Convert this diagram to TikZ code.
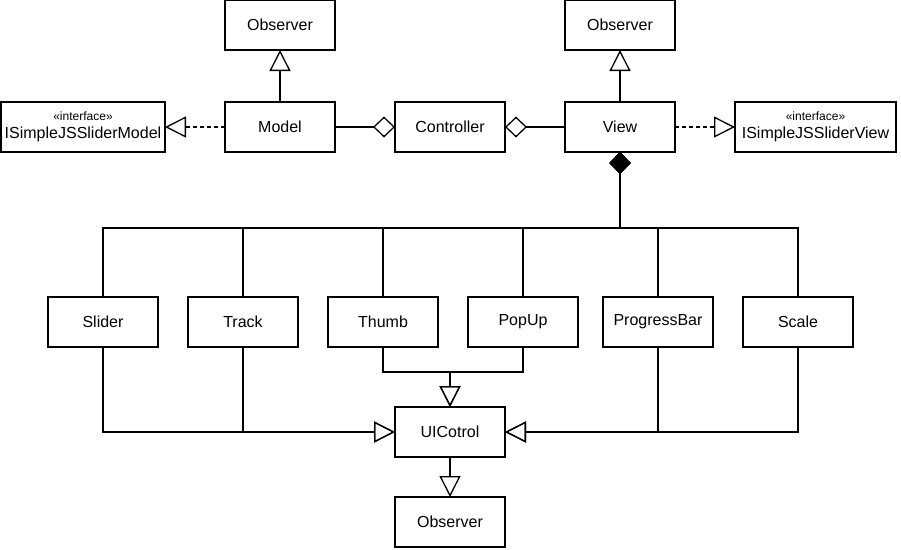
\documentclass[tikz,border=0pt]{standalone}
\usepackage{fontspec}
\setmainfont{Liberation Sans}
\usetikzlibrary{arrows.meta,positioning}

\begin{document}
\begin{tikzpicture}[
  x=1pt, y=-1pt,
  node distance=60pt and 60pt,
  box/.style={draw, line width=1.3pt, outer sep=0pt, minimum width=110pt, minimum height=50pt, align=center, inner sep=2pt, font=\fontsize{16}{18}\selectfont},
  gen/.style={-{Triangle[open, length=21pt, width=21pt]}, line width=1.3pt},
  real/.style={gen, dash pattern=on 4pt off 3pt},
  agg/.style={{Diamond[open, length=22pt, width=21pt]}-, line width=1.3pt},
  comp/.style={{Diamond[length=22pt, width=21pt]}-, line width=1.3pt}
]
\useasboundingbox (0,0) rectangle (901,549);

\node[box] (model) at (280,127) {Model};
\node[box, right=of model] (ctrl) {Controller};
\node[box, right=of ctrl] (view) {View};
\node[box, minimum width=161pt, right=of view] (iview) {{\fontsize{12}{13}\selectfont «interface»}\\ISimpleJSSliderView};
\node[box, minimum width=164pt, left=of model] (imodel) {{\fontsize{12}{13}\selectfont «interface»}\\ISimpleJSSliderModel};
\node[box, above=52pt of model] (obsm) {Observer};
\node[box, above=52pt of view] (obsv) {Observer};

\node[box] (slider) at (103,322) {Slider};
\node[box, right=30pt of slider] (track) {Track};
\node[box, right=30pt of track] (thumb) {Thumb};
\node[box, right=30pt of thumb] (popup) {PopUp};
\node[box, right=25pt of popup] (progress) {ProgressBar};
\node[box, right=30pt of progress] (scale) {Scale};
\node[box] (uic) at (450,432) {UICotrol};
\node[box, below=40pt of uic] (obsb) {Observer};

\coordinate (bus) at (620,228);
\coordinate (join) at (450,372);

\draw[gen] (model) -- (obsm);
\draw[gen] (view) -- (obsv);
\draw[real] (model) -- (imodel);
\draw[real] (view) -- (iview);
\draw[agg] (ctrl.west) -- (model.east);
\draw[agg] (ctrl.east) -- (view.west);

\foreach \part in {slider,track,thumb,popup,progress,scale}
  \draw[comp] (view.south) -- (bus) -| (\part.north);

\draw[gen] (slider.south) |- (uic.west);
\draw[gen] (track.south) |- (uic.west);
\draw[gen] (progress.south) |- (uic.east);
\draw[gen] (scale.south) |- (uic.east);
\draw[gen] (thumb.south) |- (join) -- (uic.north);
\draw[gen] (popup.south) |- (join) -- (uic.north);
\draw[gen] (uic) -- (obsb);
\end{tikzpicture}
\end{document}
